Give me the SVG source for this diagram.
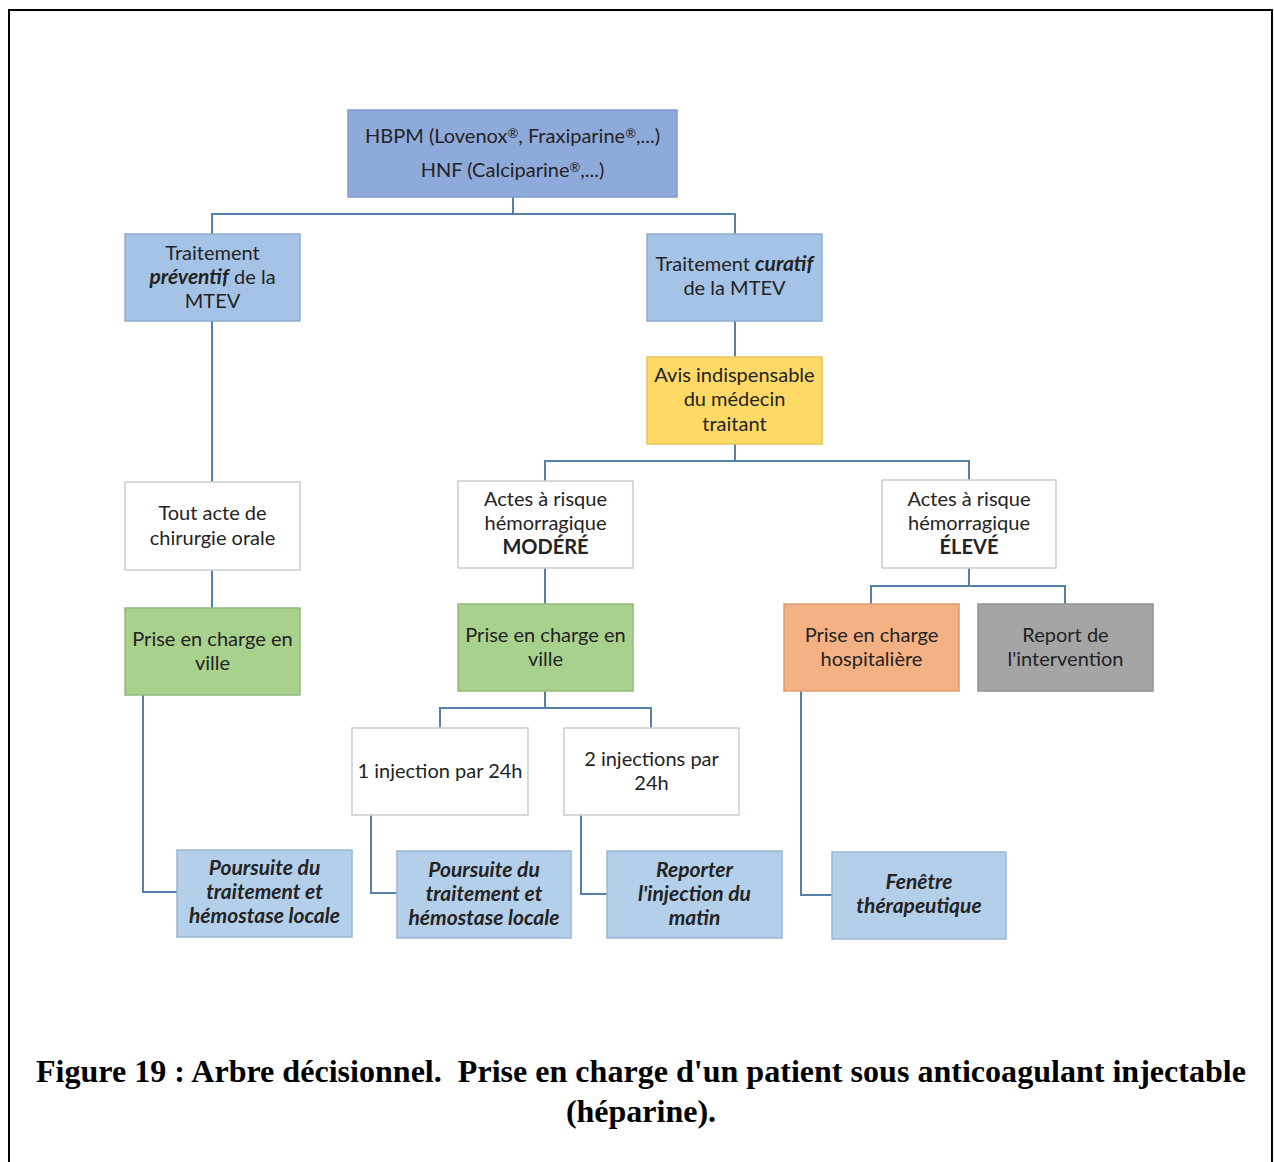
<svg xmlns="http://www.w3.org/2000/svg" width="1274" height="1162" viewBox="0 0 1274 1162">
  <style>
    .box { stroke: #b9c4d0; stroke-width: 1.5; }
    .root { fill: #8eaadb; stroke: #7f9bcc; }
    .blue { fill: #a4c3e6; stroke: #8eaccf; }
    .yellow { fill: #ffd966; stroke: #e6c35a; }
    .white { fill: #ffffff; stroke: #c9ced4; }
    .green { fill: #a9d18e; stroke: #93b97a; }
    .orange { fill: #f4b183; stroke: #dc9c70; }
    .gray { fill: #a5a5a5; stroke: #949494; }
    .result { fill: #b4cfea; stroke: #9bb7d4; }
    text { font-family: Lato, "Open Sans", "Liberation Sans", sans-serif; font-size: 20px; fill: #232323; text-anchor: middle; }
    .bi { font-weight: bold; font-style: italic; font-size: 21px; }
    .b { font-weight: bold; }
    .reg { font-size: 13px; }
    .cap { font-family: "Liberation Serif", "Times New Roman", serif; font-weight: bold; font-size: 32px; fill: #000; white-space: pre; }
    .conn { fill: none; stroke: #5580a8; stroke-width: 2; }
  </style>

  <rect x="0" y="0" width="1274" height="1162" fill="#ffffff"/>
  <!-- frame -->
  <path d="M9 1170 V10 H1272 V1170" fill="none" stroke="#000" stroke-width="2"/>

  <g id="connectors">
    <path class="conn" d="M513 197 V214 M212 234 V214 H735 V234"/>
    <path class="conn" d="M735 321 V357"/>
    <path class="conn" d="M735 444 V461 M545 481 V461 H969 V481"/>
    <path class="conn" d="M212 321 V482"/>
    <path class="conn" d="M212 570 V608"/>
    <path class="conn" d="M143 695 V892 H177"/>
    <path class="conn" d="M545 568 V604"/>
    <path class="conn" d="M545 691 V708 M440 728 V708 H651 V728"/>
    <path class="conn" d="M371 815 V893 H397"/>
    <path class="conn" d="M581 815 V894 H607"/>
    <path class="conn" d="M969 568 V586 M871 604 V586 H1065 V604"/>
    <path class="conn" d="M801 691 V895 H832"/>
  </g>

  <g id="root">
    <rect class="box root" x="348" y="110" width="329" height="87"/>
    <text x="512.5" y="143">HBPM (Lovenox<tspan class="reg" dy="-5">®</tspan><tspan dy="5">, Fraxiparine</tspan><tspan class="reg" dy="-5">®</tspan><tspan dy="5">,...)</tspan></text>
    <text x="512.5" y="177">HNF (Calciparine<tspan class="reg" dy="-5">®</tspan><tspan dy="5">,...)</tspan></text>
  </g>

  <g id="preventif">
    <rect class="box blue" x="125" y="234" width="175" height="87"/>
    <text x="212.5" y="260">Traitement</text>
    <text x="212.5" y="284"><tspan class="bi">préventif</tspan> de la</text>
    <text x="212.5" y="308">MTEV</text>
  </g>

  <g id="curatif">
    <rect class="box blue" x="647" y="234" width="175" height="87"/>
    <text x="734.5" y="271">Traitement <tspan class="bi">curatif</tspan></text>
    <text x="734.5" y="295">de la MTEV</text>
  </g>

  <g id="avis">
    <rect class="box yellow" x="647" y="357" width="175" height="87"/>
    <text x="734.5" y="382">Avis indispensable</text>
    <text x="734.5" y="406">du médecin</text>
    <text x="734.5" y="431">traitant</text>
  </g>

  <g id="chirurgie">
    <rect class="box white" x="125" y="482" width="175" height="88"/>
    <text x="212.5" y="520">Tout acte de</text>
    <text x="212.5" y="545">chirurgie orale</text>
  </g>

  <g id="ville-gauche">
    <rect class="box green" x="125" y="608" width="175" height="87"/>
    <text x="212.5" y="646">Prise en charge en</text>
    <text x="212.5" y="670">ville</text>
  </g>

  <g id="poursuite-gauche">
    <rect class="box result" x="177" y="850" width="175" height="87"/>
    <text class="bi" x="264.5" y="875">Poursuite du</text>
    <text class="bi" x="264.5" y="899">traitement et</text>
    <text class="bi" x="264.5" y="923">hémostase locale</text>
  </g>

  <g id="modere">
    <rect class="box white" x="458" y="481" width="175" height="87"/>
    <text x="545.5" y="506">Actes à risque</text>
    <text x="545.5" y="530">hémorragique</text>
    <text class="b" x="545.5" y="554">MODÉRÉ</text>
  </g>

  <g id="ville-milieu">
    <rect class="box green" x="458" y="604" width="175" height="87"/>
    <text x="545.5" y="642">Prise en charge en</text>
    <text x="545.5" y="666">ville</text>
  </g>

  <g id="une-injection">
    <rect class="box white" x="352" y="728" width="176" height="87"/>
    <text x="440" y="778">1 injection par 24h</text>
  </g>

  <g id="deux-injections">
    <rect class="box white" x="564" y="728" width="175" height="87"/>
    <text x="651.5" y="766">2 injections par</text>
    <text x="651.5" y="790">24h</text>
  </g>

  <g id="poursuite-milieu">
    <rect class="box result" x="397" y="851" width="174" height="87"/>
    <text class="bi" x="484" y="877">Poursuite du</text>
    <text class="bi" x="484" y="901">traitement et</text>
    <text class="bi" x="484" y="925">hémostase locale</text>
  </g>

  <g id="reporter">
    <rect class="box result" x="607" y="851" width="175" height="87"/>
    <text class="bi" x="694.5" y="877">Reporter</text>
    <text class="bi" x="694.5" y="901">l'injection du</text>
    <text class="bi" x="694.5" y="925">matin</text>
  </g>

  <g id="eleve">
    <rect class="box white" x="882" y="480" width="174" height="88"/>
    <text x="969" y="506">Actes à risque</text>
    <text x="969" y="530">hémorragique</text>
    <text class="b" x="969" y="554">ÉLEVÉ</text>
  </g>

  <g id="hospitaliere">
    <rect class="box orange" x="784" y="604" width="175" height="87"/>
    <text x="871.5" y="642">Prise en charge</text>
    <text x="871.5" y="666">hospitalière</text>
  </g>

  <g id="report">
    <rect class="box gray" x="978" y="604" width="175" height="87"/>
    <text x="1065.5" y="642">Report de</text>
    <text x="1065.5" y="666">l'intervention</text>
  </g>

  <g id="fenetre">
    <rect class="box result" x="832" y="852" width="174" height="87"/>
    <text class="bi" x="919" y="889">Fenêtre</text>
    <text class="bi" x="919" y="913">thérapeutique</text>
  </g>

  <g id="legende">
    <text class="cap" x="641" y="1082" textLength="1210" lengthAdjust="spacingAndGlyphs">Figure 19 : Arbre décisionnel.  Prise en charge d'un patient sous anticoagulant injectable</text>
    <text class="cap" x="641" y="1122">(héparine).</text>
  </g>
</svg>
